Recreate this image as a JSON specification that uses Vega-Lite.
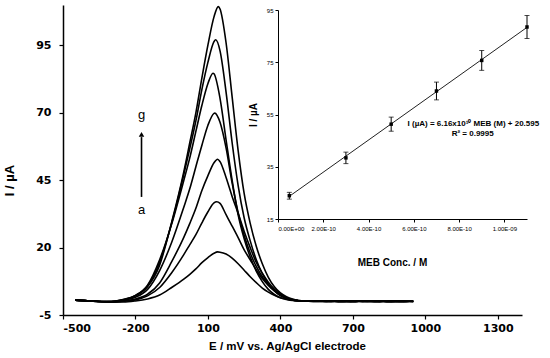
{
  "$schema": "https://vega.github.io/schema/vega-lite/v6.json",
  "width": 459,
  "height": 310,
  "autosize": {"type": "none"},
  "padding": {"left": 63, "top": 5, "right": 28, "bottom": 43},
  "background": "white",
  "config": {
    "view": {"stroke": null},
    "axis": {"grid": false, "domainColor": "black", "tickColor": "black", "labelColor": "black", "titleColor": "black"}
  },
  "datasets": {
    "dpv": [
      {"s":"g","E":-450,"I":0.5},{"s":"g","E":-400,"I":0.3},{"s":"g","E":-350,"I":0.05},{"s":"g","E":-300,"I":-0.1},{"s":"g","E":-250,"I":0.5},{"s":"g","E":-200,"I":2.1},{"s":"g","E":-150,"I":5.5},{"s":"g","E":-100,"I":13.5},{"s":"g","E":-50,"I":29.5},{"s":"g","E":0,"I":48.1},{"s":"g","E":25,"I":59},{"s":"g","E":50,"I":70},{"s":"g","E":75,"I":83},{"s":"g","E":100,"I":95.2},{"s":"g","E":125,"I":105.6},{"s":"g","E":143,"I":109.4},{"s":"g","E":150,"I":108.5},{"s":"g","E":175,"I":96},{"s":"g","E":200,"I":76},{"s":"g","E":225,"I":56},{"s":"g","E":250,"I":40},{"s":"g","E":275,"I":29},{"s":"g","E":300,"I":20.5},{"s":"g","E":325,"I":14},{"s":"g","E":350,"I":9},{"s":"g","E":375,"I":5.5},{"s":"g","E":400,"I":3.2},{"s":"g","E":425,"I":1.8},{"s":"g","E":450,"I":0.9},{"s":"g","E":475,"I":0.4},{"s":"g","E":500,"I":0.2},{"s":"g","E":550,"I":0.1},{"s":"g","E":600,"I":0.3},{"s":"g","E":650,"I":-0.1},{"s":"g","E":700,"I":0.2},{"s":"g","E":750,"I":0.0},{"s":"g","E":800,"I":0.3},{"s":"g","E":850,"I":-0.1},{"s":"g","E":900,"I":0.2},{"s":"g","E":950,"I":0.0},
      {"s":"f","E":-450,"I":0.5},{"s":"f","E":-400,"I":0.3},{"s":"f","E":-350,"I":0.0},{"s":"f","E":-300,"I":0.0},{"s":"f","E":-250,"I":0.7},{"s":"f","E":-200,"I":2.2},{"s":"f","E":-150,"I":5.8},{"s":"f","E":-100,"I":14.6},{"s":"f","E":-50,"I":29.1},{"s":"f","E":0,"I":47.1},{"s":"f","E":25,"I":56.8},{"s":"f","E":50,"I":67},{"s":"f","E":75,"I":78.7},{"s":"f","E":100,"I":88.8},{"s":"f","E":125,"I":96.4},{"s":"f","E":132,"I":97.1},{"s":"f","E":150,"I":93},{"s":"f","E":175,"I":77.7},{"s":"f","E":200,"I":59},{"s":"f","E":225,"I":43},{"s":"f","E":250,"I":31},{"s":"f","E":275,"I":22.5},{"s":"f","E":300,"I":15.5},{"s":"f","E":325,"I":10.4},{"s":"f","E":350,"I":6.5},{"s":"f","E":375,"I":3.9},{"s":"f","E":400,"I":2.1},{"s":"f","E":425,"I":1.1},{"s":"f","E":450,"I":0.5},{"s":"f","E":475,"I":0.3},{"s":"f","E":500,"I":0.2},{"s":"f","E":550,"I":0.3},{"s":"f","E":600,"I":0.0},{"s":"f","E":650,"I":0.2},{"s":"f","E":700,"I":-0.1},{"s":"f","E":750,"I":0.3},{"s":"f","E":800,"I":0.0},{"s":"f","E":850,"I":0.2},{"s":"f","E":900,"I":-0.1},{"s":"f","E":950,"I":0.1},
      {"s":"e","E":-450,"I":0.5},{"s":"e","E":-400,"I":0.3},{"s":"e","E":-350,"I":0.0},{"s":"e","E":-300,"I":0.05},{"s":"e","E":-250,"I":0.75},{"s":"e","E":-200,"I":2.3},{"s":"e","E":-150,"I":6.1},{"s":"e","E":-100,"I":15.5},{"s":"e","E":-50,"I":28.8},{"s":"e","E":0,"I":44.9},{"s":"e","E":25,"I":53.4},{"s":"e","E":50,"I":63.1},{"s":"e","E":75,"I":72.8},{"s":"e","E":100,"I":80.9},{"s":"e","E":121,"I":84.7},{"s":"e","E":125,"I":84.5},{"s":"e","E":150,"I":75.4},{"s":"e","E":175,"I":60},{"s":"e","E":200,"I":45},{"s":"e","E":225,"I":32.2},{"s":"e","E":250,"I":23.3},{"s":"e","E":275,"I":16.5},{"s":"e","E":300,"I":11.3},{"s":"e","E":325,"I":7.4},{"s":"e","E":350,"I":4.5},{"s":"e","E":375,"I":2.6},{"s":"e","E":400,"I":1.4},{"s":"e","E":425,"I":0.8},{"s":"e","E":450,"I":0.4},{"s":"e","E":475,"I":0.3},{"s":"e","E":500,"I":0.2},{"s":"e","E":550,"I":0.0},{"s":"e","E":600,"I":0.2},{"s":"e","E":650,"I":0.1},{"s":"e","E":700,"I":0.3},{"s":"e","E":750,"I":-0.1},{"s":"e","E":800,"I":0.2},{"s":"e","E":850,"I":0.0},{"s":"e","E":900,"I":0.3},{"s":"e","E":950,"I":-0.1},
      {"s":"d","E":-450,"I":0.5},{"s":"d","E":-400,"I":0.3},{"s":"d","E":-350,"I":0.0},{"s":"d","E":-300,"I":0.0},{"s":"d","E":-250,"I":0.5},{"s":"d","E":-200,"I":1.6},{"s":"d","E":-150,"I":4.5},{"s":"d","E":-100,"I":11.5},{"s":"d","E":-50,"I":22},{"s":"d","E":0,"I":35},{"s":"d","E":25,"I":41.9},{"s":"d","E":50,"I":50},{"s":"d","E":75,"I":58},{"s":"d","E":100,"I":65.4},{"s":"d","E":125,"I":69.8},{"s":"d","E":128,"I":69.9},{"s":"d","E":150,"I":66.5},{"s":"d","E":175,"I":57},{"s":"d","E":200,"I":44},{"s":"d","E":225,"I":33},{"s":"d","E":250,"I":24.5},{"s":"d","E":275,"I":18},{"s":"d","E":300,"I":13},{"s":"d","E":325,"I":9.2},{"s":"d","E":350,"I":6.2},{"s":"d","E":375,"I":4},{"s":"d","E":400,"I":2.4},{"s":"d","E":425,"I":1.3},{"s":"d","E":450,"I":0.6},{"s":"d","E":475,"I":0.3},{"s":"d","E":500,"I":0.2},{"s":"d","E":550,"I":0.2},{"s":"d","E":600,"I":-0.1},{"s":"d","E":650,"I":0.3},{"s":"d","E":700,"I":0.0},{"s":"d","E":750,"I":0.2},{"s":"d","E":800,"I":-0.1},{"s":"d","E":850,"I":0.3},{"s":"d","E":900,"I":0.0},{"s":"d","E":950,"I":0.2},
      {"s":"c","E":-450,"I":0.5},{"s":"c","E":-400,"I":0.3},{"s":"c","E":-350,"I":0.0},{"s":"c","E":-300,"I":-0.15},{"s":"c","E":-250,"I":0.2},{"s":"c","E":-200,"I":0.95},{"s":"c","E":-150,"I":2.7},{"s":"c","E":-100,"I":6.9},{"s":"c","E":-50,"I":14.8},{"s":"c","E":0,"I":23.8},{"s":"c","E":25,"I":29},{"s":"c","E":50,"I":34.6},{"s":"c","E":75,"I":41.2},{"s":"c","E":100,"I":46.7},{"s":"c","E":125,"I":51.5},{"s":"c","E":140,"I":52.8},{"s":"c","E":150,"I":51.9},{"s":"c","E":175,"I":46},{"s":"c","E":200,"I":39},{"s":"c","E":225,"I":32.7},{"s":"c","E":250,"I":26},{"s":"c","E":275,"I":20},{"s":"c","E":300,"I":14.5},{"s":"c","E":325,"I":10.5},{"s":"c","E":350,"I":7.2},{"s":"c","E":375,"I":4.6},{"s":"c","E":400,"I":2.7},{"s":"c","E":425,"I":1.4},{"s":"c","E":450,"I":0.6},{"s":"c","E":475,"I":0.3},{"s":"c","E":500,"I":0.2},{"s":"c","E":550,"I":0.1},{"s":"c","E":600,"I":0.2},{"s":"c","E":650,"I":-0.1},{"s":"c","E":700,"I":0.1},{"s":"c","E":750,"I":0.3},{"s":"c","E":800,"I":0.1},{"s":"c","E":850,"I":-0.1},{"s":"c","E":900,"I":0.2},{"s":"c","E":950,"I":0.1},
      {"s":"b","E":-450,"I":0.5},{"s":"b","E":-400,"I":0.3},{"s":"b","E":-350,"I":0.0},{"s":"b","E":-300,"I":-0.2},{"s":"b","E":-250,"I":0.1},{"s":"b","E":-200,"I":0.6},{"s":"b","E":-150,"I":2.1},{"s":"b","E":-100,"I":5.2},{"s":"b","E":-50,"I":10.7},{"s":"b","E":0,"I":17.4},{"s":"b","E":25,"I":21.1},{"s":"b","E":50,"I":24.8},{"s":"b","E":75,"I":29.2},{"s":"b","E":100,"I":33.3},{"s":"b","E":125,"I":36.6},{"s":"b","E":136,"I":37},{"s":"b","E":150,"I":36.4},{"s":"b","E":175,"I":32.2},{"s":"b","E":200,"I":28},{"s":"b","E":225,"I":23.7},{"s":"b","E":250,"I":19.2},{"s":"b","E":275,"I":15.5},{"s":"b","E":300,"I":11.8},{"s":"b","E":325,"I":8.5},{"s":"b","E":350,"I":6},{"s":"b","E":375,"I":4},{"s":"b","E":400,"I":2.5},{"s":"b","E":425,"I":1.4},{"s":"b","E":450,"I":0.7},{"s":"b","E":475,"I":0.4},{"s":"b","E":500,"I":0.3},{"s":"b","E":550,"I":0.3},{"s":"b","E":600,"I":0.1},{"s":"b","E":650,"I":0.0},{"s":"b","E":700,"I":0.2},{"s":"b","E":750,"I":0.1},{"s":"b","E":800,"I":-0.1},{"s":"b","E":850,"I":0.2},{"s":"b","E":900,"I":0.1},{"s":"b","E":950,"I":0.0},
      {"s":"a","E":-450,"I":0.5},{"s":"a","E":-400,"I":0.3},{"s":"a","E":-350,"I":0.0},{"s":"a","E":-300,"I":-0.2},{"s":"a","E":-250,"I":-0.2},{"s":"a","E":-200,"I":0.2},{"s":"a","E":-150,"I":0.96},{"s":"a","E":-100,"I":2.4},{"s":"a","E":-50,"I":5.2},{"s":"a","E":0,"I":8.3},{"s":"a","E":25,"I":10.1},{"s":"a","E":50,"I":12.1},{"s":"a","E":75,"I":14.4},{"s":"a","E":100,"I":16.3},{"s":"a","E":125,"I":17.9},{"s":"a","E":140,"I":18.4},{"s":"a","E":150,"I":18.3},{"s":"a","E":175,"I":17.6},{"s":"a","E":200,"I":16.1},{"s":"a","E":225,"I":14.0},{"s":"a","E":250,"I":11.6},{"s":"a","E":275,"I":9.2},{"s":"a","E":300,"I":7.0},{"s":"a","E":325,"I":5.0},{"s":"a","E":350,"I":3.5},{"s":"a","E":375,"I":2.3},{"s":"a","E":400,"I":1.4},{"s":"a","E":425,"I":0.9},{"s":"a","E":450,"I":0.5},{"s":"a","E":475,"I":0.3},{"s":"a","E":500,"I":0.2},{"s":"a","E":550,"I":0.0},{"s":"a","E":600,"I":0.1},{"s":"a","E":650,"I":0.2},{"s":"a","E":700,"I":-0.1},{"s":"a","E":750,"I":0.1},{"s":"a","E":800,"I":0.2},{"s":"a","E":850,"I":0.0},{"s":"a","E":900,"I":-0.1},{"s":"a","E":950,"I":0.2}
    ],
    "cal": [
      {"c":5e-11,"i":23.9,"err":1.3},
      {"c":3e-10,"i":38.4,"err":2.2},
      {"c":5e-10,"i":51.3,"err":2.7},
      {"c":7e-10,"i":64.0,"err":3.4},
      {"c":9e-10,"i":75.7,"err":3.8},
      {"c":1.1e-9,"i":88.5,"err":4.4}
    ]
  },
  "layer": [
    {
      "layer": [
        {
          "data": {"name": "dpv"},
          "mark": {"type": "line", "interpolate": "monotone", "color": "black", "strokeWidth": 1.6},
          "encoding": {
            "x": {"field": "E", "type": "quantitative",
              "scale": {"domain": [-500, 1400], "nice": false, "zero": false},
              "axis": {"orient": "bottom", "values": [-500, -200, 100, 400, 700, 1000, 1300], "title": "E / mV vs. Ag/AgCl electrode",
                "labelExpr": "'' + datum.value",
                "labelFont": "DejaVu Sans", "labelFontWeight": "bold", "labelFontSize": 11, "labelPadding": 3,
                "tickSize": 4, "tickWidth": 1.2, "domainWidth": 1.5,
                "titleFont": "Liberation Sans", "titleFontSize": 11.5, "titleFontWeight": "bold", "titlePadding": 7, "titleX": 224}},
            "y": {"field": "I", "type": "quantitative",
              "scale": {"domain": [-5, 110], "nice": false, "zero": false},
              "axis": {"orient": "left", "values": [-5, 20, 45, 70, 95], "title": "I / µA",
                "labelExpr": "'' + datum.value",
                "labelFont": "DejaVu Sans", "labelFontWeight": "bold", "labelFontSize": 11, "labelPadding": 8,
                "tickSize": 4, "tickWidth": 1.2, "domainWidth": 1.5,
                "titleFont": "Liberation Sans", "titleFontSize": 13, "titleFontWeight": "bold", "titleX": -47, "titleY": 175, "titleBaseline": "bottom", "titleAlign": "center", "titleAngle": -90}},
            "detail": {"field": "s", "type": "nominal"}
          }
        },
        {
          "data": {"values": [{"E": -175, "I": 38.8, "I2": 61}]},
          "mark": {"type": "rule", "color": "black", "strokeWidth": 1.6},
          "encoding": {
            "x": {"field": "E", "type": "quantitative"},
            "y": {"field": "I", "type": "quantitative"},
            "y2": {"field": "I2"}
          }
        },
        {
          "data": {"values": [{"E": -175, "I": 62.0}]},
          "mark": {"type": "point", "shape": "triangle-up", "filled": true, "color": "black", "opacity": 1, "size": 30},
          "encoding": {
            "x": {"field": "E", "type": "quantitative"},
            "y": {"field": "I", "type": "quantitative"}
          }
        },
        {
          "data": {"values": [{"E": -175, "I": 69.2, "t": "g"}, {"E": -175, "I": 33.9, "t": "a"}]},
          "mark": {"type": "text", "font": "Liberation Sans", "fontSize": 13, "color": "black", "baseline": "middle", "align": "center"},
          "encoding": {
            "x": {"field": "E", "type": "quantitative"},
            "y": {"field": "I", "type": "quantitative"},
            "text": {"field": "t"}
          }
        }
      ]
    },
    {
      "layer": [
        {
          "data": {"values": [{"c": 5e-11, "i": 23.675}, {"c": 1.1e-9, "i": 88.355}]},
          "mark": {"type": "line", "color": "#222222", "strokeWidth": 1},
          "encoding": {
            "x": {"field": "c", "type": "quantitative",
              "scale": {"domain": [0, 1.1e-9], "range": [215, 464], "nice": false, "zero": false},
              "axis": {"orient": "bottom", "offset": -96, "values": [0, 2e-10, 4e-10, 6e-10, 8e-10, 1e-9],
                "labelExpr": "datum.value == 0 ? '0.00E+00' : (datum.value > 9e-10 ? '1.00E-09' : upper(format(datum.value, '.2e')))",
                "labelFont": "Liberation Sans", "labelFontSize": 6, "labelPadding": 3, "tickSize": 3, "domainWidth": 1,
                "title": "MEB Conc. / M", "titleFont": "Liberation Sans", "titleFontSize": 10, "titleFontWeight": "bold",
                "titleX": 329, "titleY": 38, "titleBaseline": "top", "titleAlign": "center"}},
            "y": {"field": "i", "type": "quantitative",
              "scale": {"domain": [15, 95], "range": [214, 5], "nice": false, "zero": false},
              "axis": {"orient": "left", "offset": -215, "values": [15, 35, 55, 75, 95],
                "labelFont": "Liberation Sans", "labelFontSize": 6, "labelPadding": 2, "tickSize": 3, "domainWidth": 1,
                "title": "I / µA", "titleFont": "Liberation Sans", "titleFontSize": 10, "titleFontWeight": "bold", "titlePadding": 8}}
          }
        },
        {
          "data": {"name": "cal"},
          "mark": {"type": "errorbar", "ticks": {"size": 5, "color": "black"}, "color": "black", "thickness": 1},
          "encoding": {
            "x": {"field": "c", "type": "quantitative", "title": "MEB Conc. / M"},
            "y": {"field": "i", "type": "quantitative", "title": "I / µA"},
            "yError": {"field": "err"}
          }
        },
        {
          "data": {"name": "cal"},
          "mark": {"type": "point", "shape": "square", "filled": true, "color": "black", "opacity": 1, "size": 12},
          "encoding": {
            "x": {"field": "c", "type": "quantitative", "title": "MEB Conc. / M"},
            "y": {"field": "i", "type": "quantitative", "title": "I / µA"}
          }
        },
        {
          "data": {"values": [{"c": 8.63e-10, "i": 51.4, "t": "I (µA) = 6.16x10¹⁰ MEB (M) + 20.595"}, {"c": 8.6e-10, "i": 47.4, "t": "R² = 0.9995"}]},
          "mark": {"type": "text", "font": "Liberation Sans", "fontSize": 8, "fontWeight": "bold", "color": "black", "baseline": "middle", "align": "center"},
          "encoding": {
            "x": {"field": "c", "type": "quantitative", "title": "MEB Conc. / M"},
            "y": {"field": "i", "type": "quantitative", "title": "I / µA"},
            "text": {"field": "t"}
          }
        }
      ]
    }
  ],
  "resolve": {"scale": {"x": "independent", "y": "independent"}, "axis": {"x": "independent", "y": "independent"}}
}
